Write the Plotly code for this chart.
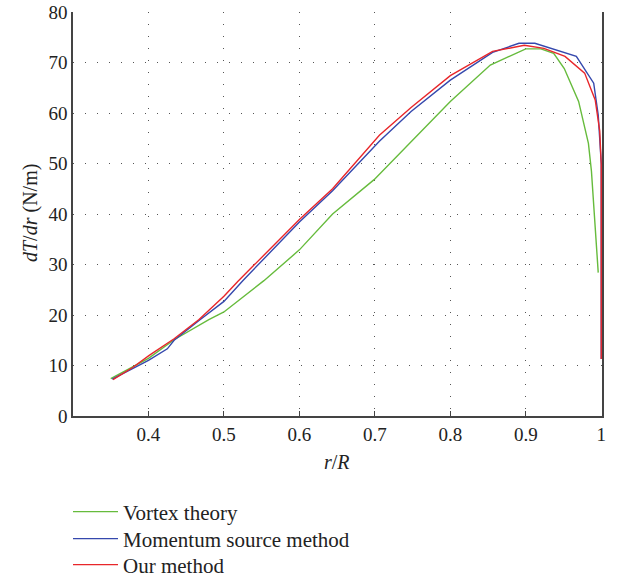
import plotly.graph_objects as go

# Radial thrust distribution dT/dr along the blade span r/R
vortex_r = [0.350, 0.400, 0.434, 0.480, 0.500, 0.553, 0.600, 0.644, 0.699, 0.723,
            0.800, 0.853, 0.900, 0.920, 0.937, 0.951, 0.970, 0.983, 0.987, 0.996]
vortex_dt = [7.4, 11.4, 15.1, 19.1, 20.6, 26.8, 32.9, 40.0, 46.8, 50.5,
             62.3, 69.5, 72.7, 72.7, 71.8, 68.8, 62.3, 54.0, 48.5, 28.4]

momentum_r = [0.352, 0.379, 0.400, 0.425, 0.434, 0.467, 0.500, 0.525, 0.600, 0.644,
              0.681, 0.706, 0.748, 0.800, 0.856, 0.891, 0.912, 0.967, 0.990, 0.996,
              1.000, 1.000]
momentum_dt = [7.3, 9.3, 11.0, 13.3, 15.0, 18.9, 22.7, 26.8, 38.4, 44.6,
               50.4, 54.4, 60.3, 66.5, 72.0, 73.8, 73.8, 71.2, 65.9, 59.6,
               50.0, 11.3]

ours_r = [0.353, 0.379, 0.401, 0.434, 0.467, 0.500, 0.518, 0.600, 0.644, 0.675,
          0.706, 0.748, 0.800, 0.856, 0.898, 0.924, 0.952, 0.978, 0.992, 0.998,
          1.000, 1.000]
ours_dt = [7.2, 9.6, 12.0, 15.3, 19.1, 23.7, 26.6, 38.9, 45.0, 50.4,
           55.6, 61.1, 67.4, 72.2, 73.4, 72.8, 71.2, 67.9, 62.6, 56.4,
           49.8, 11.3]

series_names = ["Vortex theory", "Momentum source method", "Our method"]
series_colors = ["#66bb3c", "#3548ad", "#e8262a"]

x_ticks = [0.4, 0.5, 0.6, 0.7, 0.8, 0.9, 1.0]
x_labels = ["0.4", "0.5", "0.6", "0.7", "0.8", "0.9", "1"]
y_ticks = [0, 10, 20, 30, 40, 50, 60, 70, 80]

FONT = "Liberation Serif"
W, H = 624, 581
L, R, T, B = 73, 22, 12, 165
PW, PH = W - L - R, H - T - B

fig = go.Figure()
legend_ids = ["legend", "legend2", "legend3"]
for xs, ys, name, color, lg in zip([vortex_r, momentum_r, ours_r],
                                   [vortex_dt, momentum_dt, ours_dt],
                                   series_names, series_colors, legend_ids):
    fig.add_trace(go.Scatter(x=xs, y=ys, mode="lines", name=name, legend=lg,
                             line=dict(color=color, width=1.4)))

grid = dict(showgrid=True, gridcolor="#555555", gridwidth=1, griddash="1px,11px")

# one legend box per entry, stacked below the axes
legend_rows = [512, 539, 565]
legend_style = dict(xref="container", yref="container", xanchor="left", yanchor="middle",
                    orientation="v", font=dict(family=FONT, size=21, color="#222222"),
                    itemwidth=45, bgcolor="rgba(0,0,0,0)")
legends = {lg: dict(x=68 / W, y=1 - row / H, **legend_style)
           for lg, row in zip(legend_ids, legend_rows)}

# axis titles, placed in paper coordinates around the plot area
titles = [
    dict(text="<i>r</i>/<i>R</i>", x=(337 - L) / PW, y=(PH + T - 462) / PH, textangle=0),
    dict(text="<i>dT</i>/<i>dr</i> (N/m)", x=(30 - L) / PW, y=(PH + T - 213) / PH, textangle=-90),
]
annotations = [dict(xref="paper", yref="paper", xanchor="center", yanchor="middle",
                    showarrow=False, font=dict(family=FONT, size=20, color="#222222"), **t)
               for t in titles]

fig.update_layout(
    width=W, height=H,
    margin=dict(l=L, r=R, t=T, b=B, autoexpand=False),
    paper_bgcolor="white", plot_bgcolor="white",
    font=dict(family=FONT, size=19, color="#222222"),
    showlegend=True,
    annotations=annotations,
    **legends,
    xaxis=dict(range=[0.3, 1.001], tickvals=x_ticks, ticktext=x_labels,
               ticks="inside", ticklen=5, tickcolor="#444444",
               tickfont=dict(family=FONT, size=19),
               showline=True, linecolor="#444444", linewidth=1.5, mirror=False,
               zeroline=False, automargin=False, **grid),
    yaxis=dict(range=[0, 80], tickvals=y_ticks,
               ticks="", tickfont=dict(family=FONT, size=19),
               showline=True, linecolor="#444444", linewidth=1.5, mirror=True,
               zeroline=False, automargin=False, **grid),
)

fig.write_html("out.html")
